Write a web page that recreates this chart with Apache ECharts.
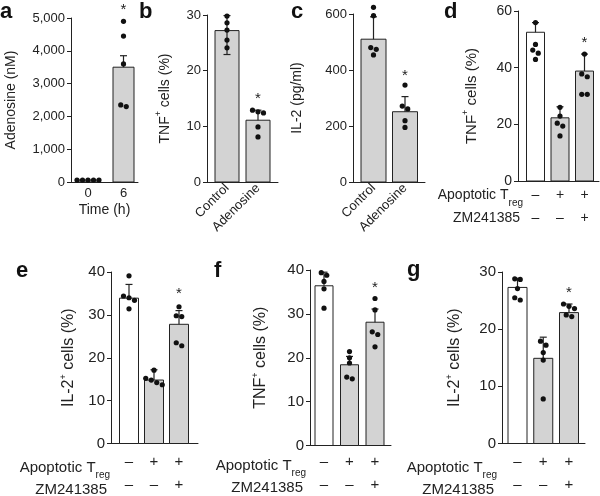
<!DOCTYPE html>
<html><head><meta charset="utf-8">
<script src="https://cdn.jsdelivr.net/npm/echarts@6/dist/echarts.min.js"></script>
<style>html,body{margin:0;padding:0;background:#fff}#c{width:600px;height:496px}</style>
</head><body><div id="c"></div>
<script>
// ---------------- DATA ----------------
// a
const aCats = ['0', '6'];
const aMean = [60, 3500];
const aErrHi = [0, 350];
const aErrLo = [0, 0];
const aDots = [[60, 60, 60, 60, 60], [4900, 4450, 3600, 2300, 2350]];
const aStar = [null, 5240];
// b
const bCats = ['Control', 'Adenosine'];
const bMean = [27.2, 11.1];
const bErrHi = [2.7, 1.8];
const bErrLo = [4.3, 0];
const bDots = [[29.8, 28.6, 27.3, 25.5, 24.1], [12.9, 12.6, 12.4, 9.9, 8.1]];
const bStar = [null, 14.9];
// c
const cCats = ['Control', 'Adenosine'];
const cMean = [510, 251];
const cErrHi = [80, 54];
const cErrLo = [0, 0];
const cDots = [[624, 594, 480, 474, 454], [346, 271, 261, 219, 195]];
const cStar = [null, 379];
// shared treatment rows for d–g
const rowLabel1 = 'Apoptotic T';
const rowLabel1Sub = 'reg';
const rowLabel2 = 'ZM241385';
const treatRow1 = ['–', '+', '+'];
const treatRow2 = ['–', '–', '+'];
// d
const dMean = [52.5, 22.3, 38.8];
const dErrHi = [3.4, 3.9, 6.0];
const dDots = [[55.9, 48.2, 46.2, 45.1, 42.9], [26.0, 22.9, 20.4, 19.4, 15.9], [44.8, 37.8, 36.8, 30.6, 30.6]];
const dStar = [null, null, 48.6];
// e
const eMean = [33.9, 14.8, 27.8];
const eErrHi = [3.2, 2.4, 3.2];
const eDots = [[39.1, 34.4, 34.0, 33.4, 31.4], [17.1, 15.2, 14.8, 14.2, 13.7], [31.9, 29.8, 29.6, 23.5, 22.8]];
const eStar = [null, null, 34.8];
// f
const fMean = [36.4, 18.4, 28.1];
const fErrHi = [3.1, 1.9, 3.0];
const fDots = [[39.4, 38.8, 37.4, 35.7, 31.3], [21.4, 20.0, 18.8, 15.6, 15.2], [33.5, 30.9, 25.9, 25.3, 22.5]];
const fStar = [null, null, 35.9];
// g
const gMean = [27.3, 14.9, 22.9];
const gErrHi = [1.6, 3.7, 1.5];
const gDots = [[28.8, 28.7, 27.1, 25.5, 25.1], [17.9, 17.2, 15.9, 14.6, 7.8], [24.4, 24.0, 23.6, 22.5, 22.2]];
const gStar = [null, null, 26.4];

// ---------------- LAYOUT / STYLE ----------------
const FONT = 'Liberation Sans, Arial, Helvetica, sans-serif';
const INK = '#222';
const GRAY = '#d3d3d3';
const WHITE = '#ffffff';
const treatLabels = treatRow1.map((t, i) => t + '\n' + treatRow2[i]);
const zeros3 = [0, 0, 0];

const panels = [
  {letter: 'a', lx: 0, ly: 1, labels: aCats, mean: aMean, hi: aErrHi, lo: aErrLo, dots: aDots, star: aStar,
   yMax: 5000, yInt: 1000, yName: '{n|Adenosine (nM)}', nameGap: 53, fs: 13,
   L: 71, R: 138, T: 18, B: 182, c0: 88, step: 35.5, bw: 21, fills: [GRAY, GRAY],
   xMode: 'plain', xMargin: 5, xName: 'Time (h)'},
  {letter: 'b', lx: 139, ly: 1, labels: bCats, mean: bMean, hi: bErrHi, lo: bErrLo, dots: bDots, star: bStar,
   yMax: 30, yInt: 10, yName: '{n|TNF}{s|+}{n| cells (%)}', nameGap: 35, fs: 13,
   L: 207, R: 278, T: 15, B: 182, c0: 227, step: 31, bw: 24, fills: [GRAY, GRAY],
   xMode: 'rot', xMargin: 4},
  {letter: 'c', lx: 291, ly: 1, labels: cCats, mean: cMean, hi: cErrHi, lo: cErrLo, dots: cDots, star: cStar,
   yMax: 600, yInt: 200, yName: '{n|IL-2 (pg/ml)}', nameGap: 49, fs: 13,
   L: 353, R: 425, T: 14, B: 182, c0: 373.5, step: 31.5, bw: 25, fills: [GRAY, GRAY],
   xMode: 'rot', xMargin: 4},
  {letter: 'd', lx: 444, ly: 1, labels: treatLabels, mean: dMean, hi: dErrHi, lo: zeros3, dots: dDots, star: dStar,
   yMax: 60, yInt: 20, yName: '{n|TNF}{s|+}{n| cells (%)}', nameGap: 39, fs: 14,
   L: 518, R: 599, T: 11, B: 181, c0: 535.5, step: 24.5, bw: 18, fills: [WHITE, GRAY, GRAY],
   xMode: 'treat', xMargin: 2.5, rowRight: 523, row1Y: 195, row2Y: 218},
  {letter: 'e', lx: 16, ly: 260, labels: treatLabels, mean: eMean, hi: eErrHi, lo: zeros3, dots: eDots, star: eStar,
   yMax: 40, yInt: 10, yName: '{n|IL-2}{s|+}{n| cells (%)}', nameGap: 34, fs: 15,
   L: 111, R: 198, T: 272, B: 449, c0: 129, step: 25, bw: 19, fills: [WHITE, GRAY, GRAY],
   xMode: 'treat', xMargin: 6.5, rowRight: 110, row1Y: 467, row2Y: 490},
  {letter: 'f', lx: 214, ly: 260, labels: treatLabels, mean: fMean, hi: fErrHi, lo: zeros3, dots: fDots, star: fStar,
   yMax: 40, yInt: 10, yName: '{n|TNF}{s|+}{n| cells (%)}', nameGap: 41, fs: 15,
   L: 310, R: 391, T: 270, B: 449, c0: 324, step: 25.5, bw: 18, fills: [WHITE, GRAY, GRAY],
   xMode: 'treat', xMargin: 4.5, rowRight: 306, row1Y: 465, row2Y: 488},
  {letter: 'g', lx: 407, ly: 259, labels: treatLabels, mean: gMean, hi: gErrHi, lo: zeros3, dots: gDots, star: gStar,
   yMax: 30, yInt: 10, yName: '{n|IL-2}{s|+}{n| cells (%)}', nameGap: 39, fs: 15,
   L: 502, R: 585, T: 272, B: 449, c0: 517.5, step: 25.75, bw: 19, fills: [WHITE, GRAY, GRAY],
   xMode: 'treat', xMargin: 6.5, rowRight: 497, row1Y: 467, row2Y: 490}
];

// spread overlapping dots horizontally (pixel offsets, presentation only)
function swarm(vals, pxPerUnit) {
  const idx = vals.map((v, i) => i).sort((a, b) => vals[b] - vals[a]);
  const off = new Array(vals.length).fill(0);
  let group = [idx[0]];
  const flush = () => {
    const n = group.length;
    group.forEach((gi, j) => { off[gi] = (j - (n - 1) / 2) * 5.5; });
  };
  for (let k = 1; k < idx.length; k++) {
    if (Math.abs(vals[idx[k]] - vals[group[group.length - 1]]) * pxPerUnit < 4.5) group.push(idx[k]);
    else { flush(); group = [idx[k]]; }
  }
  flush();
  return off;
}

const grid = [], xAxis = [], yAxis = [], series = [], graphic = [];

panels.forEach((p, i) => {
  const n = p.mean.length;
  grid.push({left: p.L, top: p.T, width: p.R - p.L, height: p.B - p.T, containLabel: false});
  const xmin = -(p.c0 - p.L) / p.step;
  const xmax = (n - 1) + (p.R - (p.c0 + (n - 1) * p.step)) / p.step;
  const ticks = p.mean.map((v, k) => k);
  const xa = {
    type: 'value', gridIndex: i, min: xmin, max: xmax,
    splitLine: {show: false},
    axisLine: {show: true, onZero: false, lineStyle: {color: INK, width: 1}},
    axisTick: {show: false},
    axisLabel: {
      show: true, customValues: ticks, color: INK, fontFamily: FONT, fontSize: p.fs,
      margin: p.xMargin,
      formatter: (v) => p.labels[Math.round(v)]
    }
  };
  if (p.xMode === 'rot') { xa.axisLabel.rotate = 45; }
  if (p.xMode === 'treat') { xa.axisLabel.lineHeight = 23; }
  if (p.xName) {
    xa.name = p.xName; xa.nameLocation = 'middle'; xa.nameGap = 21;
    xa.nameTextStyle = {color: INK, fontFamily: FONT, fontSize: 14};
  }
  xAxis.push(xa);
  yAxis.push({
    type: 'value', gridIndex: i, min: 0, max: p.yMax, interval: p.yInt,
    splitLine: {show: false},
    axisLine: {show: true, onZero: false, lineStyle: {color: INK, width: 1}},
    axisTick: {show: true, length: 4, lineStyle: {color: INK}},
    axisLabel: {color: INK, fontFamily: FONT, fontSize: p.fs, margin: 6},
    name: p.yName, nameLocation: 'middle', nameGap: p.nameGap,
    nameTextStyle: {
      fontFamily: FONT, color: INK,
      rich: {
        n: {fontSize: p.fs + 1, fontFamily: FONT, color: INK, lineHeight: 18, verticalAlign: 'bottom'},
        s: {fontSize: 9, fontFamily: FONT, color: INK, lineHeight: 18, verticalAlign: 'top'}
      }
    }
  });

  // bars
  series.push({
    type: 'custom', xAxisIndex: i, yAxisIndex: i, z: 2, clip: false,
    data: p.mean.map((v, k) => [k, v]),
    renderItem: (params, api) => {
      const x = api.value(0), y = api.value(1);
      const p0 = api.coord([x, 0]), p1 = api.coord([x, y]);
      return {type: 'rect', shape: {x: p0[0] - p.bw / 2, y: p1[1], width: p.bw, height: p0[1] - p1[1]},
        style: {fill: p.fills[params.dataIndex], stroke: INK, lineWidth: 1}};
    }
  });
  // error bars
  series.push({
    type: 'custom', xAxisIndex: i, yAxisIndex: i, z: 3, clip: false,
    data: p.mean.map((v, k) => [k, v, p.hi[k], p.lo[k]]),
    renderItem: (params, api) => {
      const x = api.value(0), m = api.value(1), h = api.value(2), l = api.value(3);
      const top = api.coord([x, m + h]), bot = api.coord([x, m - l]), mid = api.coord([x, m]);
      const st = {stroke: INK, lineWidth: 1.2};
      const ch = [];
      if (h > 0) {
        ch.push({type: 'line', shape: {x1: mid[0], y1: mid[1], x2: top[0], y2: top[1]}, style: st});
        ch.push({type: 'line', shape: {x1: top[0] - 3.5, y1: top[1], x2: top[0] + 3.5, y2: top[1]}, style: st});
      }
      if (l > 0) {
        ch.push({type: 'line', shape: {x1: mid[0], y1: mid[1], x2: bot[0], y2: bot[1]}, style: st});
        ch.push({type: 'line', shape: {x1: bot[0] - 3.5, y1: bot[1], x2: bot[0] + 3.5, y2: bot[1]}, style: st});
      }
      return {type: 'group', children: ch};
    }
  });
  // dots
  const pxPerUnit = (p.B - p.T) / p.yMax;
  const dotData = [];
  p.dots.forEach((arr, k) => {
    const off = swarm(arr, pxPerUnit);
    arr.forEach((v, j) => dotData.push([k, v, off[j]]));
  });
  series.push({
    type: 'custom', xAxisIndex: i, yAxisIndex: i, z: 4, clip: false,
    data: dotData,
    renderItem: (params, api) => {
      const c = api.coord([api.value(0), api.value(1)]);
      return {type: 'circle', shape: {cx: c[0] + api.value(2), cy: c[1], r: 2.6}, style: {fill: '#111'}};
    }
  });
  // significance stars
  const starData = [];
  p.star.forEach((v, k) => { if (v != null) starData.push([k, v]); });
  series.push({
    type: 'custom', xAxisIndex: i, yAxisIndex: i, z: 4, clip: false,
    data: starData,
    renderItem: (params, api) => {
      const c = api.coord([api.value(0), api.value(1)]);
      return {type: 'text', x: c[0], y: c[1],
        style: {text: '*', fontSize: 15, fontFamily: FONT, fill: INK, align: 'center', verticalAlign: 'middle'}};
    }
  });

  // panel letter
  graphic.push({type: 'text', left: p.lx, top: p.ly,
    style: {text: p.letter, fontSize: 22, fontWeight: 'bold', fontFamily: FONT, fill: '#111'}});
  // treatment row labels
  if (p.xMode === 'treat') {
    graphic.push({type: 'text', x: p.rowRight, y: p.row1Y + 3,
      style: {text: '{m|' + rowLabel1 + '}{u|' + rowLabel1Sub + '}', align: 'right', verticalAlign: 'middle',
        rich: {
          m: {fontSize: p.fs, fontFamily: FONT, fill: INK, lineHeight: 20, verticalAlign: 'top'},
          u: {fontSize: 10, fontFamily: FONT, fill: INK, lineHeight: 20, verticalAlign: 'bottom'}
        }}});
    graphic.push({type: 'text', x: p.rowRight - 3, y: p.row2Y,
      style: {text: rowLabel2, fontSize: p.fs, fontFamily: FONT, fill: INK, align: 'right', verticalAlign: 'middle'}});
  }
});

const chart = echarts.init(document.getElementById('c'), null, {renderer: 'canvas'});
chart.setOption({
  animation: false,
  backgroundColor: '#fff',
  textStyle: {fontFamily: FONT},
  grid, xAxis, yAxis, series, graphic
});
</script>
</body></html>
